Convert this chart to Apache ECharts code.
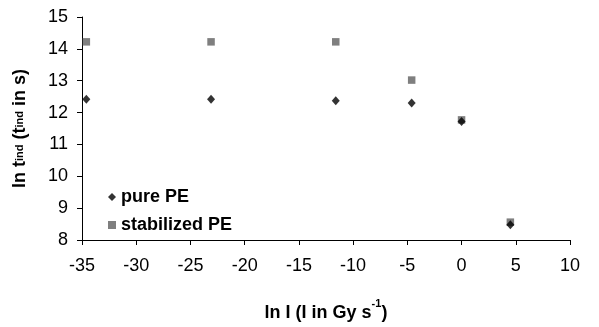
<!DOCTYPE html>
<html>
<head>
<meta charset="utf-8">
<script src="https://cdn.jsdelivr.net/npm/echarts@6/dist/echarts.min.js"></script>
<style>html,body{margin:0;padding:0;background:#fff}#c{width:599px;height:327px}</style>
</head>
<body>
<div id="c"></div>
<script>
var seriesNames = ['pure PE', 'stabilized PE'];
var pureX = [-34.6, -23.1, -11.6, -4.6, 0.0, 4.5];
var pureY = [12.42, 12.42, 12.37, 12.3, 11.72, 8.48];
var stabX = [-34.6, -23.1, -11.6, -4.6, 0.0, 4.5];
var stabY = [14.22, 14.22, 14.22, 13.02, 11.77, 8.56];
var xTicks = [-35, -30, -25, -20, -15, -10, -5, 0, 5, 10];
var yTicks = [8, 9, 10, 11, 12, 13, 14, 15];

function pairs(xs, ys) { return xs.map(function (x, i) { return [x, ys[i]]; }); }

var FONT = 'Liberation Sans, Arial, sans-serif';
var chart = echarts.init(document.getElementById('c'));
chart.setOption({
  animation: false,
  backgroundColor: '#fff',
  grid: { left: 82, right: 29, top: 17, bottom: 82, containLabel: false },
  legend: {
    orient: 'vertical', left: 103, top: 183,
    itemWidth: 8, itemHeight: 8, itemGap: 10,
    textStyle: { fontFamily: FONT, fontSize: 18, fontWeight: 'bold', color: '#000' },
    data: [{ name: seriesNames[0], icon: 'diamond' }, { name: seriesNames[1], icon: 'rect' }]
  },
  xAxis: {
    type: 'value', min: xTicks[0], max: xTicks[xTicks.length - 1], interval: 5,
    axisLine: { onZero: false, lineStyle: { color: '#000', width: 1 } },
    axisTick: { show: true, length: 5, lineStyle: { color: '#000' } },
    axisLabel: { fontFamily: FONT, fontSize: 18, color: '#000', margin: 17 },
    splitLine: { show: false },
    name: '{b|ln I (I in Gy s}{p|-1}{b|)}',
    nameLocation: 'middle', nameGap: 58,
    nameTextStyle: {
      rich: {
        b: { fontFamily: FONT, fontSize: 18, fontWeight: 'bold', color: '#000', lineHeight: 24, verticalAlign: 'bottom' },
        p: { fontFamily: FONT, fontSize: 11, fontWeight: 'bold', color: '#000', lineHeight: 11, verticalAlign: 'top' }
      }
    }
  },
  yAxis: {
    type: 'value', min: yTicks[0], max: yTicks[yTicks.length - 1], interval: 1,
    axisLine: { show: true, onZero: false, lineStyle: { color: '#000', width: 1 } },
    axisTick: { show: true, length: 5, lineStyle: { color: '#000' } },
    axisLabel: { fontFamily: FONT, fontSize: 18, color: '#000', margin: 14 },
    splitLine: { show: false },
    name: '{b|ln t}{s|ind}{b| (t}{s|ind}{b| in s)}',
    nameLocation: 'middle', nameGap: 52,
    nameTextStyle: {
      rich: {
        b: { fontFamily: FONT, fontSize: 18, fontWeight: 'bold', color: '#000', lineHeight: 20 },
        s: { fontFamily: FONT, fontSize: 11, fontWeight: 'bold', color: '#000', lineHeight: 20 }
      }
    }
  },
  series: [
    { name: seriesNames[0], type: 'scatter', symbol: 'diamond', symbolSize: [8, 9],
      itemStyle: { color: '#000' }, data: pairs(pureX, pureY), z: 3 },
    { name: seriesNames[1], type: 'scatter', symbol: 'rect', symbolSize: 7.5,
      itemStyle: { color: '#5f5f5f' }, data: pairs(stabX, stabY), z: 2 }
  ]
});
</script>
</body>
</html>
